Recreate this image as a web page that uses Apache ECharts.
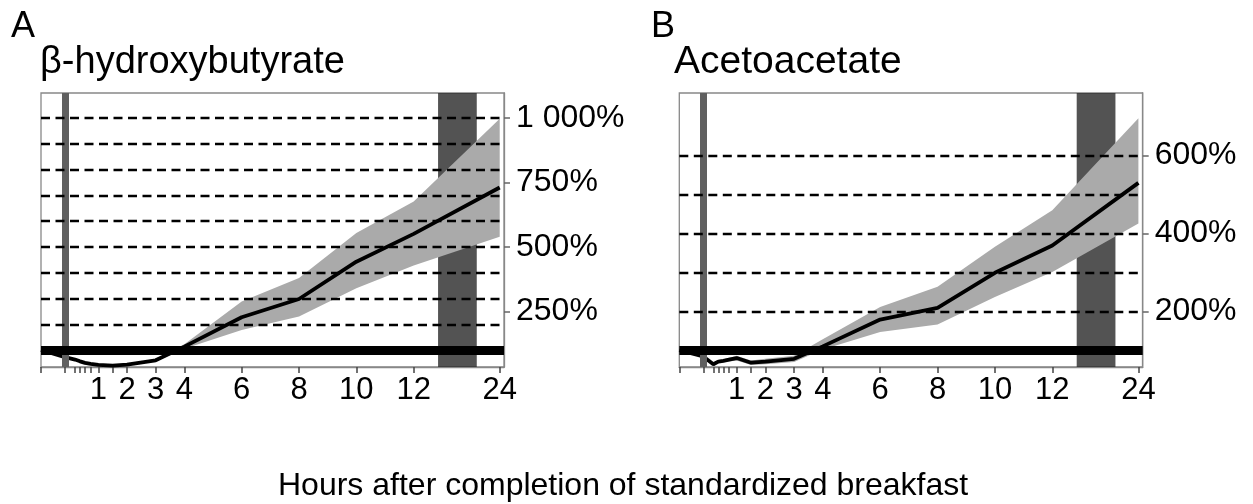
<!DOCTYPE html>
<html><head><meta charset="utf-8">
<script src="https://cdn.jsdelivr.net/npm/echarts@6/dist/echarts.min.js"></script>
<style>html,body{margin:0;padding:0;background:#fff}#c{width:1253px;height:504px}</style>
</head><body><div id="c"></div>
<script>
// ---- data ----
const sampleHours = [-0.5, 0, 0.3, 0.45, 0.6, 0.77, 1, 1.5, 2, 3, 4, 6, 8, 10, 12, 24];
const bhbMean  = [100, 72, 63, 56, 50, 46, 42, 39, 43, 60, 113, 227, 298, 443, 551, 731];
const bhbLower = [100, 70, 61, 54, 48, 44, 40, 37, 40, 55, 105, 178, 230, 340, 428, 540];
const bhbUpper = [100, 74, 65, 58, 52, 48, 44, 41, 46, 66, 122, 288, 380, 554, 677, 998];
const acacMean  = [100, 84, 64, 71, 73, 76, 80, 68, 71, 78, 110, 179, 209, 299, 369, 530];
const acacLower = [100, 81, 60, 67, 69, 71, 74, 62, 64, 70, 102, 147, 166, 237, 301, 426];
const acacUpper = [100, 87, 68, 75, 77, 81, 86, 74, 78, 86, 128, 211, 263, 366, 460, 696];
const xTickLabelHours = [1, 2, 3, 4, 6, 8, 10, 12, 24];
const xMinorTickHours = [-0.5, 0, 0.3, 0.45, 0.6, 0.77, 1.5];
const bhbYTicks = [250, 500, 750, 1000];
const acacYTicks = [200, 400, 600];
const bhbGridLines = [200, 300, 400, 500, 600, 700, 800, 900, 1000];
const acacGridLines = [200, 300, 400, 500, 600];
const referenceLevel = 100;
const mealEndHour = 0;
const nightHours = [15.4, 20.8];
const panelLabels = ['A', 'B'];
const panelTitles = ['β-hydroxybutyrate', 'Acetoacetate'];
const xAxisTitle = 'Hours after completion of standardized breakfast';

// ---- broken time scale (hours -> axis units) ----
const scaleBreaks = [[-0.5, -1], [0, -0.164], [1, 1], [12, 12], [24, 15]];
function hx(h) {
  for (let i = 0; i < scaleBreaks.length - 1; i++) {
    const [h0, u0] = scaleBreaks[i], [h1, u1] = scaleBreaks[i + 1];
    if (h <= h1 || i === scaleBreaks.length - 2) return u0 + (h - h0) * (u1 - u0) / (h1 - h0);
  }
}
const FONT = "'Liberation Sans', Arial, sans-serif";
const grids = [
  {left: 41, top: 93, width: 463, height: 274},
  {left: 679.3, top: 93, width: 463.4, height: 274}
];
const yRanges = [[34, 1098], [57, 761]];
const panels = [
  {mean: bhbMean, lower: bhbLower, upper: bhbUpper, yTicks: bhbYTicks, gridLines: bhbGridLines},
  {mean: acacMean, lower: acacLower, upper: acacUpper, yTicks: acacYTicks, gridLines: acacGridLines}
];
function yFmt(v) {
  const s = String(v);
  return (v >= 1000 ? s.slice(0, s.length - 3) + ' ' + s.slice(-3) : s) + '%';
}
const labelU = xTickLabelHours.map(hx);
const tickU = xMinorTickHours.concat(xTickLabelHours).map(hx);
const tStyle = (fs) => ({fontSize: fs, fontWeight: 'normal', fontFamily: FONT, color: '#000'});

const option = {
  animation: false,
  backgroundColor: '#fff',
  title: [
    {text: panelLabels[0], left: 11, top: 9, padding: 0, textStyle: tStyle(36)},
    {text: panelTitles[0], left: 40, top: 44, padding: 0, textStyle: tStyle(38)},
    {text: panelLabels[1], left: 651, top: 9, padding: 0, textStyle: tStyle(36)},
    {text: panelTitles[1], left: 674, top: 43, padding: 0, textStyle: tStyle(39)},
    {text: xAxisTitle, left: 278, top: 470, padding: 0, textStyle: tStyle(32)}
  ],
  grid: grids.map(g => Object.assign({show: true, borderColor: '#888', borderWidth: 1.3, backgroundColor: 'transparent'}, g)),
  xAxis: grids.map((g, i) => ({
    type: 'value', gridIndex: i, min: -1, max: 15.15,
    splitLine: {show: false},
    axisLine: {show: true, onZero: false, lineStyle: {color: '#888', width: 1.3}},
    axisTick: {show: true, customValues: tickU, length: 6, lineStyle: {color: '#444', width: 1.5}},
    axisLabel: {show: true, customValues: labelU, margin: 8, fontSize: 31, fontFamily: FONT, color: '#000',
      formatter: v => { const k = labelU.findIndex(u => Math.abs(u - v) < 1e-6); return k >= 0 ? String(xTickLabelHours[k]) : ''; }}
  })),
  yAxis: grids.map((g, i) => ({
    type: 'value', gridIndex: i, position: 'right', min: yRanges[i][0], max: yRanges[i][1],
    splitLine: {show: false},
    axisLine: {show: true, onZero: false, lineStyle: {color: '#888', width: 1.3}},
    axisTick: {show: true, customValues: panels[i].yTicks, length: 6, lineStyle: {color: '#666', width: 1.5}},
    axisLabel: {show: true, customValues: panels[i].yTicks, margin: 12, fontSize: 32, fontFamily: FONT, color: '#000', formatter: yFmt}
  })),
  series: []
};

panels.forEach((p, i) => {
  option.series.push({
    type: 'custom', xAxisIndex: i, yAxisIndex: i, z: 1, silent: true, clip: true,
    data: [0],
    renderItem: (params, api) => {
      const pts = [];
      sampleHours.forEach((h, k) => pts.push(api.coord([hx(h), p.upper[k]])));
      for (let k = sampleHours.length - 1; k >= 0; k--) pts.push(api.coord([hx(sampleHours[k]), p.lower[k]]));
      return {type: 'polygon', shape: {points: pts}, style: {fill: '#aaaaaa', stroke: null}};
    }
  });
  option.series.push({
    type: 'line', xAxisIndex: i, yAxisIndex: i, z: 2, silent: true, data: [],
    markLine: {silent: true, symbol: ['none', 'none'], label: {show: false},
      lineStyle: {color: '#606060', width: 7, type: 'solid'},
      data: [{xAxis: hx(mealEndHour)}]},
    markArea: {silent: true, itemStyle: {color: 'rgba(40,40,40,0.8)'},
      data: [[{xAxis: hx(nightHours[0])}, {xAxis: hx(nightHours[1])}]]}
  });
  option.series.push({
    type: 'line', xAxisIndex: i, yAxisIndex: i, z: 3, silent: true, data: [],
    markLine: {silent: true, symbol: ['none', 'none'], label: {show: false},
      lineStyle: {color: '#000', width: 2.4, type: [9, 5.5]},
      data: p.gridLines.map(v => ({yAxis: v}))}
  });
  option.series.push({
    type: 'line', xAxisIndex: i, yAxisIndex: i, z: 4, silent: true, symbol: 'none',
    lineStyle: {color: '#000', width: 3.8}, smooth: false,
    data: sampleHours.map((h, k) => [hx(h), p.mean[k]])
  });
  option.series.push({
    type: 'line', xAxisIndex: i, yAxisIndex: i, z: 5, silent: true, data: [],
    markLine: {silent: true, symbol: ['none', 'none'], label: {show: false},
      lineStyle: {color: '#000', width: 9, type: 'solid'},
      data: [{yAxis: referenceLevel}]}
  });
});

const chart = echarts.init(document.getElementById('c'), null, {renderer: 'canvas'});
chart.setOption(option);
</script>
</body></html>
